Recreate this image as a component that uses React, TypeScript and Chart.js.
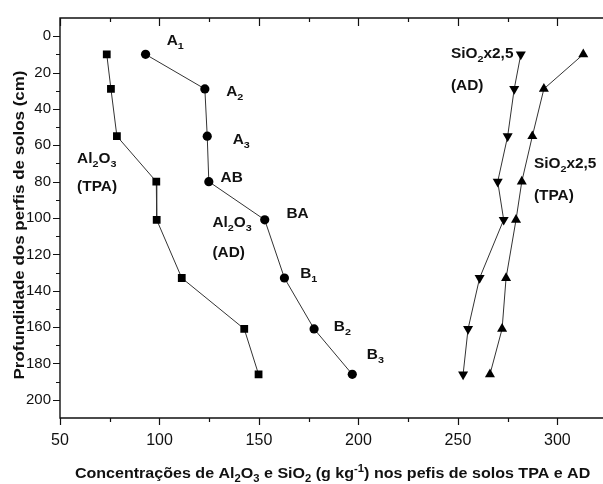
import React, { useEffect, useRef } from 'react';
import { Chart, registerables } from 'chart.js';

Chart.register(...registerables);

// ---- data ----
const depths = [10, 29, 55, 80, 101, 133, 161, 186];
const al2o3TPA = [73.5, 75.6, 78.6, 98.4, 98.6, 111.2, 142.6, 149.8];
const al2o3AD = [93.0, 122.8, 124.0, 124.8, 152.9, 162.8, 177.7, 196.9];
const sio2AD = [281.6, 278.3, 275.0, 270.0, 273.0, 260.9, 255.1, 252.6];
const sio2TPA = [313.0, 293.2, 287.4, 282.1, 279.2, 274.2, 272.2, 266.1];

const xMajorTicks = [50, 100, 150, 200, 250, 300];
const xMinorTicks = [75, 125, 175, 225, 275];
const yMajorTicks = [0, 20, 40, 60, 80, 100, 120, 140, 160, 180, 200];
const yMinorTicks = [10, 30, 50, 70, 90, 110, 130, 150, 170, 190];

const xTitle = 'Concentrações de Al_{2}O_{3} e SiO_{2} (g kg^{-1}) nos pefis de solos TPA e AD';
const yTitle = 'Profundidade dos perfis de solos (cm)';

// annotation texts and their anchor (data coords: concentration, depth)
const noteTexts = [
  'A_{1}', 'A_{2}', 'A_{3}', 'AB', 'BA', 'Al_{2}O_{3}', '(AD)', 'B_{1}', 'B_{2}', 'B_{3}',
  'Al_{2}O_{3}', '(TPA)', 'SiO_{2}x2,5', '(AD)', 'SiO_{2}x2,5', '(TPA)',
];
const noteX = [103.6, 133.5, 136.8, 130.7, 163.8, 126.6, 126.6, 170.7, 187.6, 204.2, 58.6, 58.6, 246.5, 246.5, 288.2, 288.2];
const noteY = [2.3, 30.3, 56.5, 77.6, 97.5, 102, 118.7, 130.5, 159.4, 174.7, 67, 82.6, 9.5, 26.7, 70, 87.2];

const FAMILY = '"Liberation Sans", Arial, sans-serif';

type Seg = { t: string; m: number };
function parseRich(s: string): Seg[] {
  const segs: Seg[] = [];
  let cur = '';
  let i = 0;
  while (i < s.length) {
    const c = s[i];
    if ((c === '_' || c === '^') && s[i + 1] === '{') {
      if (cur) segs.push({ t: cur, m: 0 });
      cur = '';
      const end = s.indexOf('}', i);
      segs.push({ t: s.slice(i + 2, end), m: c === '_' ? 1 : 2 });
      i = end + 1;
    } else {
      cur += c;
      i++;
    }
  }
  if (cur) segs.push({ t: cur, m: 0 });
  return segs;
}

function richWidth(ctx: CanvasRenderingContext2D, segs: Seg[], size: number) {
  let w = 0;
  for (const s of segs) {
    const sz = s.m === 0 ? size : size * 0.7;
    ctx.font = `bold ${sz}px ${FAMILY}`;
    w += ctx.measureText(s.t).width;
  }
  return w;
}

function drawRich(ctx: CanvasRenderingContext2D, text: string, x: number, baseline: number, size: number, align: 'left' | 'center', sx: number) {
  const segs = parseRich(text);
  ctx.save();
  ctx.translate(x, baseline);
  ctx.scale(sx, 1);
  let cx = 0;
  if (align === 'center') cx = -richWidth(ctx, segs, size) / 2;
  ctx.textAlign = 'left';
  ctx.textBaseline = 'alphabetic';
  for (const s of segs) {
    const sz = s.m === 0 ? size : size * 0.7;
    ctx.font = `bold ${sz}px ${FAMILY}`;
    const dy = s.m === 1 ? size * 0.28 : s.m === 2 ? -size * 0.42 : 0;
    ctx.fillText(s.t, cx, dy);
    cx += ctx.measureText(s.t).width;
  }
  ctx.restore();
}

const framePlugin = {
  id: 'frameAndNotes',
  afterDraw(chart: any) {
    const { ctx, chartArea } = chart;
    const xs = chart.scales.x;
    const ys = chart.scales.y;
    const { left, top, bottom } = chartArea;
    const edge = chart.width;
    ctx.save();
    ctx.strokeStyle = '#111';
    ctx.lineWidth = 1.4;
    ctx.beginPath();
    ctx.moveTo(edge, top);
    ctx.lineTo(left, top);
    ctx.lineTo(left, bottom);
    ctx.lineTo(edge, bottom);
    ctx.stroke();
    ctx.lineWidth = 1.2;
    ctx.beginPath();
    for (const v of xMajorTicks) {
      const px = Math.round(xs.getPixelForValue(v)) + 0.5;
      ctx.moveTo(px, bottom);
      ctx.lineTo(px, bottom + 7);
      ctx.moveTo(px, top);
      ctx.lineTo(px, top + 8);
    }
    for (const v of xMinorTicks) {
      const px = Math.round(xs.getPixelForValue(v)) + 0.5;
      ctx.moveTo(px, bottom);
      ctx.lineTo(px, bottom + 4);
      ctx.moveTo(px, top);
      ctx.lineTo(px, top + 4);
    }
    for (const v of yMajorTicks) {
      const py = Math.round(ys.getPixelForValue(v)) + 0.5;
      ctx.moveTo(left, py);
      ctx.lineTo(left - 7, py);
    }
    for (const v of yMinorTicks) {
      const py = Math.round(ys.getPixelForValue(v)) + 0.5;
      ctx.moveTo(left, py);
      ctx.lineTo(left - 4, py);
    }
    ctx.stroke();

    ctx.fillStyle = '#111';
    // annotations
    const noteSize = 14;
    for (let i = 0; i < noteTexts.length; i++) {
      const px = xs.getPixelForValue(noteX[i]);
      const py = ys.getPixelForValue(noteY[i]);
      drawRich(ctx, noteTexts[i], px, py + noteSize * 0.36, noteSize, 'left', 1.1);
    }
    // x title
    drawRich(ctx, xTitle, (left + chartArea.right) / 2 + 4, 478, 15, 'center', 1.07);
    // y title
    ctx.save();
    ctx.translate(24, (top + bottom) / 2 + 7);
    ctx.rotate(-Math.PI / 2);
    drawRich(ctx, yTitle, 0, 0, 15, 'center', 1.13);
    ctx.restore();
    ctx.restore();
  },
};

function pts(xsArr: number[]) {
  return xsArr.map((v, i) => ({ x: v, y: depths[i] }));
}

export default function App() {
  const ref = useRef<HTMLCanvasElement | null>(null);
  useEffect(() => {
    if (!ref.current) return;
    const line = { showLine: true, borderColor: '#333', borderWidth: 1, pointBackgroundColor: '#000', pointBorderColor: '#000', pointBorderWidth: 0, fill: false };
    const chart = new Chart(ref.current, {
      type: 'scatter',
      data: {
        datasets: [
          { ...line, label: 'Al2O3 (TPA)', data: pts(al2o3TPA), pointStyle: 'rect', pointRadius: 5.5 },
          { ...line, label: 'Al2O3 (AD)', data: pts(al2o3AD), pointStyle: 'circle', pointRadius: 4.6 },
          { ...line, label: 'SiO2x2,5 (AD)', data: pts(sio2AD), pointStyle: 'triangle', pointRotation: 180, pointRadius: 5.8 },
          { ...line, label: 'SiO2x2,5 (TPA)', data: pts(sio2TPA), pointStyle: 'triangle', pointRadius: 5.8 },
        ] as any,
      },
      options: {
        animation: false,
        responsive: false,
        maintainAspectRatio: false,
        devicePixelRatio: 1,
        layout: { padding: { top: 12, left: 0, right: 0, bottom: 0 } },
        plugins: { legend: { display: false }, tooltip: { enabled: false }, title: { display: false } },
        scales: {
          x: {
            type: 'linear',
            min: 50,
            max: 320,
            grid: { display: false, drawTicks: false },
            border: { display: false },
            afterBuildTicks: (s: any) => { s.ticks = xMajorTicks.map((v) => ({ value: v })); },
            afterFit: (s: any) => { s.height = 66; },
            ticks: { color: '#111', padding: 13, maxRotation: 0, autoSkip: false, font: { family: FAMILY, size: 16 } },
          },
          y: {
            type: 'linear',
            reverse: true,
            min: -10,
            max: 210,
            grid: { display: false, drawTicks: false },
            border: { display: false },
            afterBuildTicks: (s: any) => { s.ticks = yMajorTicks.map((v) => ({ value: v })); },
            afterFit: (s: any) => { s.width = 60; },
            ticks: { color: '#111', padding: 9, autoSkip: false, font: { family: FAMILY, size: 15 } },
          },
        },
      } as any,
      plugins: [framePlugin],
    });
    return () => chart.destroy();
  }, []);
  return (
    <div style={{ position: 'fixed', left: 0, top: 0, width: 603, height: 484, background: '#fff' }}>
      <canvas ref={ref} width={603} height={484} style={{ width: 603, height: 484, display: 'block' }} />
    </div>
  );
}
